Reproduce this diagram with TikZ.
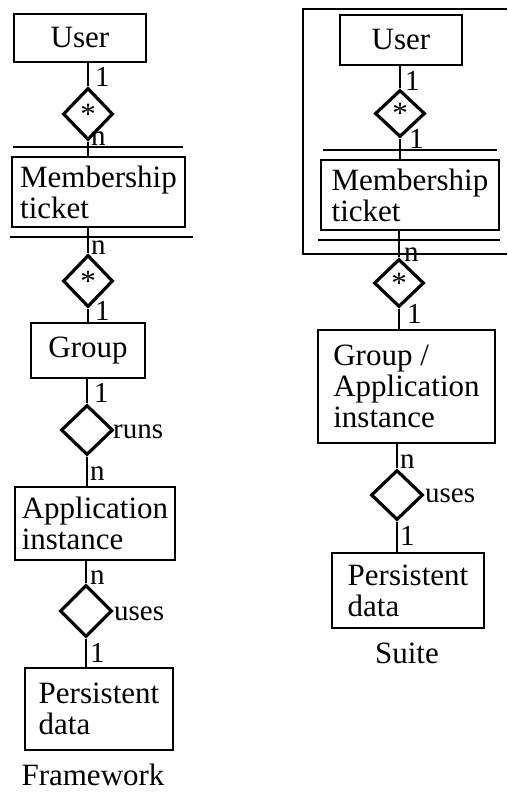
\documentclass[tikz,border=0pt]{standalone}
\usepackage{fontspec}
\setmainfont{Liberation Serif}
\usetikzlibrary{shapes.geometric}
\begin{document}
\begin{tikzpicture}[x=1pt,y=-1pt,
  txt/.style={font=\fontsize{31}{31}\selectfont},
  entity/.style={txt, draw, line width=2.8pt, rectangle, inner sep=0pt, align=left},
  rel/.style={txt, draw, diamond, line width=3.2pt, inner sep=0pt,
              minimum width=50pt, minimum height=52pt},
  conn/.style={line width=2.7pt},
  rule/.style={line width=2.8pt},
  card/.style={font=\fontsize{29}{29}\selectfont, inner sep=0pt, anchor=base west},
  caption/.style={txt, inner sep=0pt, anchor=base}]
\useasboundingbox (0,0) rectangle (507,792);

% ---------------- Framework ----------------
\node[entity, minimum width=132pt, minimum height=48pt] (uL) at (80,38) {User};
\node[rel] (d1L) at (88,114) {*};
\node[entity, minimum width=173pt, minimum height=70pt] (mL) at (98.5,192) {Membership\\ticket};
\coordinate (mLt1) at (13,147);  \coordinate (mLt2) at (183,147);
\coordinate (mLb1) at (10,237);  \coordinate (mLb2) at (193,237);
\draw[rule] (mLt1) -- (mLt2);
\draw[rule] (mLb1) -- (mLb2);
\node[rel] (d2L) at (88,281) {*};
\node[entity, minimum width=114pt, minimum height=55pt] (gL) at (88,350.5) {Group};
\node[rel, minimum width=52pt, minimum height=50pt] (d3L) at (87,430) {};
\node[entity, minimum width=160pt, minimum height=73pt] (aL) at (95,523.5) {Application\\instance};
\node[rel, minimum width=52pt, minimum height=52pt] (d4L) at (86,611) {};
\node[entity, minimum width=148pt, minimum height=82pt] (pL) at (99,709) {Persistent\\data};
\node[caption] (capL) at (93,785) {Framework};

\draw[conn] (d1L.north) -- (d1L.north |- uL.south);
\draw[conn] (d1L.south) -- (d1L.south |- mL.north);
\draw[conn] (d2L.north) -- (d2L.north |- mL.south);
\draw[conn] (d2L.south) -- (d2L.south |- gL.north);
\draw[conn] (d3L.north) -- (d3L.north |- gL.south);
\draw[conn] (d3L.south) -- (d3L.south |- aL.north);
\draw[conn] (d4L.north) -- (d4L.north |- aL.south);
\draw[conn] (d4L.south) -- (d4L.south |- pL.north);

\node[card] (cL1) at (95,86) {1};
\node[card] (cL2) at (91,145) {n};
\node[card] (cL3) at (91,254) {n};
\node[card] (cL4) at (95,320) {1};
\node[card] (cL5) at (94,402) {1};
\node[card] (rL1) at (113,438) {runs};
\node[card] (cL6) at (90,480) {n};
\node[card] (cL7) at (90,584) {n};
\node[card] (rL2) at (114,620) {uses};
\node[card] (cL8) at (90,662) {1};

% ---------------- Suite ----------------
\coordinate (fr1) at (507,9);  \coordinate (fr2) at (303,9);
\coordinate (fr3) at (303,254); \coordinate (fr4) at (507,254);
\draw[rule] (fr1) -- (fr2) -- (fr3) -- (fr4);

\node[entity, minimum width=122pt, minimum height=50pt] (uR) at (401,40) {User};
\node[rel, minimum height=47pt] (d1R) at (400,113.5) {*};
\node[entity, minimum width=178pt, minimum height=70pt] (mR) at (410,195) {Membership\\ticket};
\coordinate (mRt1) at (323,150);  \coordinate (mRt2) at (497,150);
\coordinate (mRb1) at (318,240);  \coordinate (mRb2) at (500,240);
\draw[rule] (mRt1) -- (mRt2);
\draw[rule] (mRb1) -- (mRb2);
\node[rel, minimum height=48pt] (d2R) at (399,283) {*};
\node[entity, minimum width=177pt, minimum height=113pt] (gR) at (406.5,386.5) {Group /\\Application\\instance};
\node[rel, minimum width=52pt, minimum height=50pt] (d3R) at (397,495) {};
\node[entity, minimum width=152pt, minimum height=75pt] (pR) at (408,590.5) {Persistent\\data};
\node[caption] (capR) at (407,663) {Suite};

\draw[conn] (d1R.north) -- (d1R.north |- uR.south);
\draw[conn] (d1R.south) -- (d1R.south |- mR.north);
\draw[conn] (d2R.north) -- (d2R.north |- mR.south);
\draw[conn] (d2R.south) -- (d2R.south |- gR.north);
\draw[conn] (d3R.north) -- (d3R.north |- gR.south);
\draw[conn] (d3R.south) -- (d3R.south |- pR.north);

\node[card] (cR1) at (405,90) {1};
\node[card] (cR2) at (409,148) {1};
\node[card] (cR3) at (404,261) {n};
\node[card] (cR4) at (407,323) {1};
\node[card] (cR5) at (400,468) {n};
\node[card] (rR1) at (425,502) {uses};
\node[card] (cR6) at (400,545) {1};
\end{tikzpicture}
\end{document}
